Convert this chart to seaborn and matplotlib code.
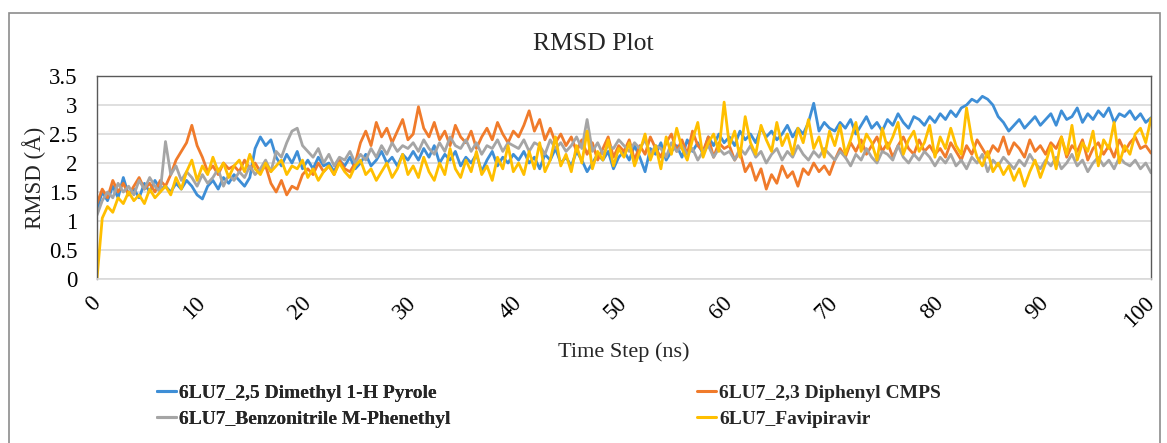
import numpy as np
import pandas as pd
import matplotlib
matplotlib.use("Agg")
import matplotlib.pyplot as plt
from matplotlib.lines import Line2D
from matplotlib.patches import Rectangle
import seaborn as sns

# time axis: 0 .. 100 ns, one frame read every 0.5 ns
tiempo = np.arange(0, 100.5, 0.5)

ligandos = [
    "6LU7_2,5 Dimethyl 1-H Pyrole",
    "6LU7_2,3 Diphenyl CMPS",
    "6LU7_Benzonitrile M-Phenethyl",
    "6LU7_Favipiravir",
]
colores = ["#3E8ED6", "#F07B2B", "#A5A5A5", "#FFBF00"]

rmsd_pyrole = [
    1.20, 1.50, 1.35, 1.60, 1.40, 1.75, 1.45, 1.55, 1.40, 1.65, 1.50, 1.70, 1.55, 1.60, 1.50, 1.65, 1.55, 1.70, 1.60, 1.45,
    1.38, 1.60, 1.70, 1.55, 1.75, 1.65, 1.80, 1.70, 1.60, 1.75, 2.25, 2.45, 2.30, 2.40, 2.10, 1.95, 2.15, 2.00, 2.20, 1.90,
    2.05, 1.90, 2.10, 1.95, 2.00, 1.85, 2.05, 1.95, 2.10, 1.90, 2.00, 2.15, 1.95, 2.05, 2.20, 2.00, 2.10, 1.95, 2.15, 2.05,
    2.20, 2.05, 2.25, 2.10, 2.30, 2.00, 2.15, 2.05, 2.20, 1.95, 2.10, 2.00, 2.15, 1.85, 2.05, 2.20, 1.95, 2.10, 2.00, 2.15,
    2.05, 2.20, 2.00, 2.10, 1.90, 2.15, 2.05, 2.25, 2.00, 2.10, 1.95, 2.20, 2.05, 1.85, 2.00, 2.15, 2.05, 2.20, 1.90, 2.10,
    2.20, 2.05, 2.30, 2.10, 1.85, 2.25, 2.15, 2.35, 2.05, 2.20, 2.30, 2.10, 2.40, 2.20, 2.35, 2.15, 2.45, 2.30, 2.50, 2.35,
    2.45, 2.30, 2.55, 2.40, 2.50, 2.35, 2.60, 2.45, 2.55, 2.40, 2.50, 2.65, 2.45, 2.60, 2.50, 2.70, 3.03, 2.55, 2.70, 2.60,
    2.55, 2.70, 2.60, 2.75, 2.50, 2.65, 2.80, 2.60, 2.70, 2.55, 2.75, 2.65, 2.85, 2.70, 2.60, 2.80, 2.75, 2.65, 2.80, 2.70,
    2.85, 2.75, 2.90, 2.80, 2.95, 3.00, 3.10, 3.05, 3.15, 3.10, 3.00, 2.80, 2.70, 2.55, 2.65, 2.75, 2.60, 2.70, 2.80, 2.65,
    2.75, 2.85, 2.65, 2.90, 2.75, 2.80, 2.95, 2.70, 2.85, 2.75, 2.90, 2.80, 2.95, 2.70, 2.85, 2.80, 2.90, 2.75, 2.85, 2.70,
    2.78,
]

rmsd_cmps = [
    1.30, 1.55, 1.40, 1.70, 1.50, 1.65, 1.45, 1.60, 1.75, 1.55, 1.65, 1.50, 1.70, 1.60, 1.80, 2.05, 2.20, 2.35, 2.65, 2.30,
    2.10, 1.85, 1.95, 1.80, 2.00, 1.90, 1.95, 1.85, 2.05, 1.90, 2.00, 1.85, 1.95, 1.65, 1.50, 1.70, 1.45, 1.60, 1.55, 1.80,
    1.90, 1.80, 2.00, 1.85, 1.95, 1.80, 2.05, 1.90, 1.85, 2.00, 2.35, 2.55, 2.30, 2.70, 2.45, 2.60, 2.35, 2.55, 2.75, 2.40,
    2.50, 2.97, 2.60, 2.45, 2.70, 2.40, 2.55, 2.30, 2.65, 2.45, 2.35, 2.55, 2.25, 2.45, 2.60, 2.40, 2.70, 2.50, 2.35, 2.55,
    2.45, 2.65, 2.90, 2.55, 2.75, 2.40, 2.60, 2.35, 2.50, 2.30, 2.45, 2.20, 2.40, 2.15, 2.35, 2.05, 2.25, 2.45, 2.10, 2.30,
    2.20, 2.40, 2.05, 2.30, 2.15, 2.45, 2.25, 2.10, 2.35, 2.50, 2.20, 2.40, 2.15, 2.55, 2.30, 2.20, 2.45, 2.10, 2.35, 2.25,
    2.30, 2.05, 2.20, 1.85, 2.00, 1.70, 1.90, 1.55, 1.80, 1.65, 1.95, 1.75, 1.85, 1.60, 1.90, 1.80, 2.00, 1.85, 1.95, 1.80,
    2.05, 2.25, 2.10, 2.35, 2.20, 2.40, 2.15, 2.30, 2.45, 2.20, 2.35, 2.10, 2.30, 2.45, 2.25, 2.15, 2.40, 2.20, 2.30, 2.15,
    2.25, 2.10, 2.35, 2.20, 2.05, 2.30, 2.15, 2.40, 2.25, 2.10, 2.30, 2.20, 2.45, 2.15, 2.35, 2.25, 2.10, 2.40, 2.20, 2.30,
    2.15, 2.35, 2.25, 2.45, 2.10, 2.30, 2.20, 2.40, 2.05, 2.25, 2.35, 2.15, 2.30, 2.10, 2.40, 2.20, 2.35, 2.45, 2.25, 2.30,
    2.17,
]

rmsd_benzonitrile = [
    1.10, 1.35, 1.50, 1.40, 1.65, 1.50, 1.60, 1.45, 1.70, 1.55, 1.75, 1.60, 1.50, 2.37, 1.80, 1.95, 1.70, 1.85, 1.75, 1.60,
    1.80, 1.65, 1.75, 1.90, 1.60, 1.80, 1.70, 1.85, 1.75, 1.95, 1.80, 1.90, 2.05, 1.85, 2.20, 2.10, 2.35, 2.55, 2.60, 2.30,
    2.20, 2.10, 2.25, 2.00, 2.15, 1.95, 2.10, 2.05, 2.20, 2.00, 2.15, 2.05, 2.25, 2.10, 2.30, 2.15, 2.35, 2.20, 2.30, 2.25,
    2.35, 2.20, 2.40, 2.25, 2.15, 2.35, 2.20, 2.45, 2.30, 2.25, 2.40, 2.20, 2.35, 2.15, 2.30, 2.25, 2.40, 2.20, 2.35, 2.30,
    2.25, 2.40, 2.20, 2.35, 2.30, 2.15, 2.40, 2.25, 2.35, 2.20, 2.30, 2.45, 2.25, 2.75, 2.20, 2.35, 2.15, 2.30, 2.25, 2.40,
    2.30, 2.20, 2.35, 2.25, 2.40, 2.15, 2.30, 2.25, 2.10, 2.35, 2.20, 2.30, 2.15, 2.25, 2.05, 2.20, 2.30, 2.10, 2.25, 2.15,
    2.20, 2.05, 2.25, 2.15, 2.30, 2.10, 2.20, 2.00, 2.15, 2.25, 2.05, 2.20, 2.10, 2.30, 2.15, 2.05, 2.20, 2.10, 2.25, 2.15,
    2.05, 2.20, 2.10, 1.95, 2.15, 2.05, 2.25, 2.10, 2.00, 2.20, 2.15, 2.05, 2.30, 2.10, 2.00, 2.15, 2.05, 2.20, 2.10, 1.95,
    2.10, 2.00, 2.15, 1.95, 2.05, 1.90, 2.10, 2.00, 2.15, 1.85, 2.05, 1.95, 2.10, 2.00, 1.90, 2.05, 1.95, 2.15, 2.00, 1.90,
    2.05, 1.95, 2.10, 1.90, 2.00, 2.15, 1.95, 2.05, 1.85, 2.00, 2.10, 1.95, 2.05, 1.90, 2.10, 2.00, 1.95, 2.05, 1.90, 2.00,
    1.83,
]

rmsd_favipiravir = [
    0.00, 1.05, 1.25, 1.15, 1.40, 1.30, 1.50, 1.35, 1.45, 1.30, 1.55, 1.40, 1.50, 1.60, 1.45, 1.75, 1.55, 1.85, 2.05, 1.70,
    1.95, 1.80, 2.10, 1.85, 2.00, 1.75, 1.95, 2.05, 1.85, 2.15, 1.90, 1.80, 2.00, 1.85, 1.95, 2.05, 1.80, 1.95, 1.90, 2.05,
    1.75, 1.90, 1.70, 1.85, 1.95, 1.80, 2.00, 1.85, 1.75, 1.95, 2.05, 1.80, 1.90, 1.70, 1.85, 2.00, 1.75, 1.90, 2.15, 1.80,
    1.95, 1.75, 2.10, 1.85, 1.70, 2.00, 1.80, 2.25, 1.90, 1.75, 2.05, 1.85, 2.20, 1.80, 1.95, 1.70, 2.10, 1.90, 2.30, 1.85,
    2.00, 1.80, 2.20, 1.90, 2.35, 1.85, 2.05, 2.45, 1.95, 2.15, 1.85, 2.30, 2.00, 2.55, 1.90, 2.20, 2.05, 2.40, 1.95, 2.25,
    2.10, 2.35, 1.95, 2.20, 2.50, 2.05, 2.30, 1.90, 2.45, 2.15, 2.60, 2.25, 2.05, 2.40, 2.70, 2.10, 2.35, 2.50, 2.20, 3.05,
    2.30, 2.55, 2.10, 2.80, 2.35, 2.15, 2.65, 2.40, 2.20, 2.70, 2.30, 2.50, 2.15, 2.60, 2.35, 2.75, 2.25, 2.45, 2.10, 2.55,
    2.30, 2.65, 2.15, 2.40, 2.70, 2.20, 2.50, 2.35, 2.05, 2.60, 2.25, 2.45, 2.70, 2.15, 2.40, 2.55, 2.20, 2.35, 2.65, 2.10,
    2.45, 2.25, 2.60, 2.30, 2.15, 2.95, 2.40, 2.10, 1.95, 2.20, 1.85, 2.00, 1.80, 1.95, 1.70, 1.90, 1.60, 1.85, 2.05, 1.75,
    2.00, 2.30, 1.90, 2.45, 2.15, 2.65, 2.05, 2.35, 2.20, 2.55, 1.95, 2.40, 2.25, 2.70, 2.00, 2.30, 2.15, 2.50, 2.60, 2.35,
    2.77,
]

series = [rmsd_pyrole, rmsd_cmps, rmsd_benzonitrile, rmsd_favipiravir]

df = pd.concat(
    [pd.DataFrame({"tiempo": tiempo, "rmsd": vals, "ligando": nombre})
     for nombre, vals in zip(ligandos, series)],
    ignore_index=True,
)

sns.set_style("white")
plt.rcParams["font.family"] = ["Liberation Serif", "DejaVu Serif"]

fig = plt.figure(figsize=(11.67, 4.43), dpi=100)
ax = fig.add_axes([0.0831, 0.3702, 0.9032, 0.4582])

sns.lineplot(data=df, x="tiempo", y="rmsd", hue="ligando", hue_order=ligandos,
             palette=colores, linewidth=2.0, legend=False, ax=ax)

ax.set_xlim(0, 100)
ax.set_ylim(0, 3.5)
ax.set_xticks(np.arange(0, 101, 10))
ax.set_yticks(np.arange(0, 3.51, 0.5))
ax.set_yticklabels(["0", "0.5", "1", "1.5", "2", "2.5", "3", "3.5"])
ax.yaxis.grid(True, color="#D9D9D9", linewidth=1.2)
ax.set_axisbelow(True)
ax.tick_params(axis="both", labelsize=16.5, length=0, colors="black")
ax.tick_params(axis="y", pad=14)
ax.tick_params(axis="x", pad=15)
for lab in ax.get_xticklabels():
    lab.set_rotation(45)
    lab.set_ha("right")
    lab.set_va("center")
    lab.set_rotation_mode("anchor")

for lado in ["left", "top", "right"]:
    ax.spines[lado].set_color("#595959")
    ax.spines[lado].set_linewidth(1.0)
ax.spines["bottom"].set_color("#D9D9D9")
ax.spines["bottom"].set_linewidth(1.2)

ax.set_xlabel("Time Step (ns)", fontsize=16, labelpad=8)
ax.set_ylabel("RMSD (Å)", fontsize=16.5, labelpad=2)
fig.text(593 / 1167, 1 - 44 / 443, "RMSD Plot", ha="center", va="center", fontsize=18.5)

# legend: two columns placed like the original
fuente_leyenda = {"family": "Liberation Serif", "weight": "bold", "size": 14}
h = [Line2D([], [], color=c, linewidth=2.2) for c in colores]
opciones = dict(loc="center left", frameon=False, prop=fuente_leyenda,
                handlelength=1.0, handletextpad=0.15, labelspacing=0.45,
                borderpad=0, borderaxespad=0)
leg1 = fig.legend([h[0], h[2]], [ligandos[0], ligandos[2]],
                  bbox_to_anchor=(157 / 1167, 1 - 406 / 443), **opciones)
fig.add_artist(leg1)
fig.legend([h[1], h[3]], [ligandos[1], ligandos[3]],
           bbox_to_anchor=(697 / 1167, 1 - 406 / 443), **opciones)

# outer chart border
fig.add_artist(Rectangle((9 / 1167, -0.01), 1151 / 1167, 1 - 13 / 443 + 0.01,
                         transform=fig.transFigure, fill=False,
                         edgecolor="#8C8C8C", linewidth=1.2))

fig.savefig("out.png", dpi=100)
